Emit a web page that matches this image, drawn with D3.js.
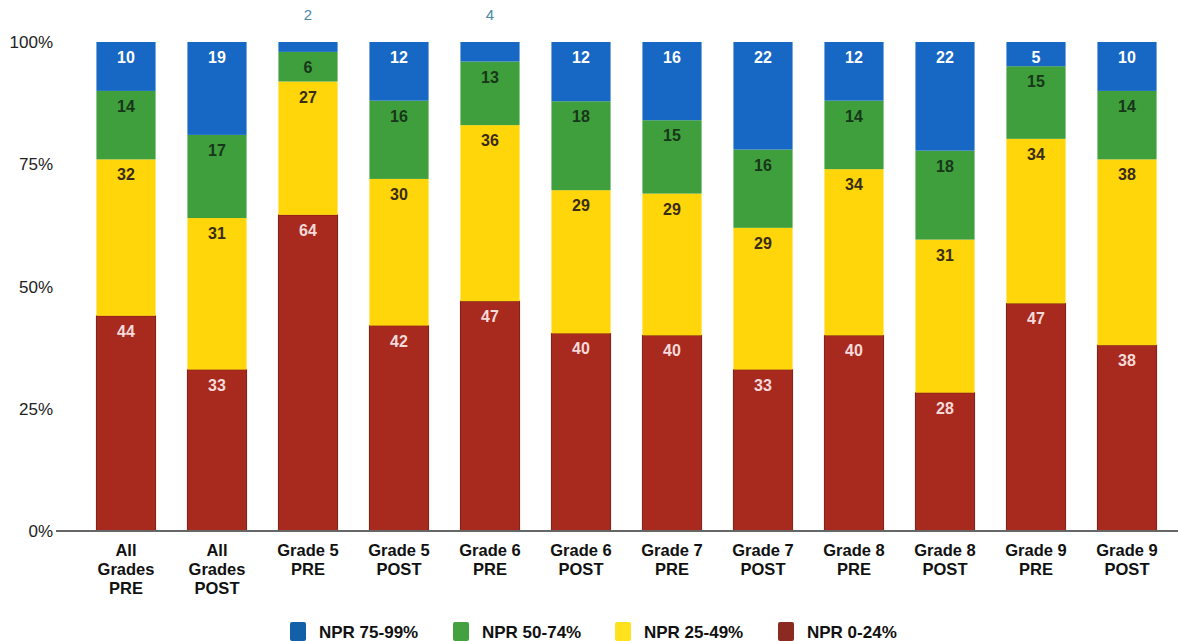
<!DOCTYPE html>
<html><head><meta charset="utf-8">
<script src="https://cdn.jsdelivr.net/npm/d3@7"></script>
<style>
html,body{margin:0;padding:0;background:#fff;}
svg{display:block;font-family:"Liberation Sans",Arial,sans-serif;}
</style></head>
<body><svg id="c" width="1178" height="641"></svg>
<script>
const categories = ["All Grades PRE","All Grades POST","Grade 5 PRE","Grade 5 POST","Grade 6 PRE","Grade 6 POST","Grade 7 PRE","Grade 7 POST","Grade 8 PRE","Grade 8 POST","Grade 9 PRE","Grade 9 POST"];
const categoryLines = [["All","Grades","PRE"],["All","Grades","POST"],["Grade 5","PRE"],["Grade 5","POST"],["Grade 6","PRE"],["Grade 6","POST"],["Grade 7","PRE"],["Grade 7","POST"],["Grade 8","PRE"],["Grade 8","POST"],["Grade 9","PRE"],["Grade 9","POST"]];
const npr0_24  = [44,33,64,42,47,40,40,33,40,28,47,38];
const npr25_49 = [32,31,27,30,36,29,29,29,34,31,34,38];
const npr50_74 = [14,17,6,16,13,18,15,16,14,18,15,14];
const npr75_99 = [10,19,2,12,4,12,16,22,12,22,5,10];
const seriesNames = ["NPR 0-24%","NPR 25-49%","NPR 50-74%","NPR 75-99%"];
const legendOrder = ["NPR 75-99%","NPR 50-74%","NPR 25-49%","NPR 0-24%"];
const yTicks = [0,0.25,0.5,0.75,1];
const yTickLabels = ["0%","25%","50%","75%","100%"];

const colors = {"NPR 0-24%":"#a82a1e","NPR 25-49%":"#ffd60a","NPR 50-74%":"#3f9f3c","NPR 75-99%":"#1768c4"};
const legendColors = {"NPR 0-24%":"#8a2a20","NPR 25-49%":"#ffe11e","NPR 50-74%":"#45a040","NPR 75-99%":"#1260a8"};
const labelColors = {"NPR 0-24%":"#f6dada","NPR 25-49%":"#3a2c12","NPR 50-74%":"#17361a","NPR 75-99%":"#ffffff"};

const rows = categories.map((c,i)=>({cat:c,"NPR 0-24%":npr0_24[i],"NPR 25-49%":npr25_49[i],"NPR 50-74%":npr50_74[i],"NPR 75-99%":npr75_99[i]}));
const stack = d3.stack().keys(seriesNames).offset(d3.stackOffsetExpand);
const stacked = stack(rows);

const svg = d3.select("#c");
const x = d3.scaleBand().domain(categories).range([80.5,1172.5]).paddingInner(0.35).paddingOuter(0.175);
const y = d3.scaleLinear().domain([0,1]).range([531,42]);

// y tick labels
svg.append("g").selectAll("text").data(yTicks).join("text")
  .attr("x",53).attr("y",d=>y(d)+6).attr("text-anchor","end")
  .attr("font-size",17).attr("fill","#222").text((d,i)=>yTickLabels[i]);

// bars
const g = svg.append("g");
stacked.forEach(s=>{
  g.append("g").selectAll("rect").data(s).join("rect")
    .attr("x",d=>x(d.data.cat)).attr("width",x.bandwidth())
    .attr("y",d=>y(d[1])).attr("height",d=>y(d[0])-y(d[1]))
    .attr("fill",colors[s.key])
    .attr("stroke",s.key==="NPR 0-24%"?"#7d1d14":"none").attr("stroke-width",1);
});

// labels
stacked.forEach(s=>{
  g.append("g").selectAll("text").data(s).join("text")
    .attr("x",d=>x(d.data.cat)+x.bandwidth()/2)
    .attr("y",d=>{const v=d.data[s.key]; return v<5 ? 20 : y(d[1])+21;})
    .attr("text-anchor","middle")
    .attr("font-size",d=>d.data[s.key]<5?15:16)
    .attr("font-weight",d=>d.data[s.key]<5?"normal":"bold")
    .attr("fill",d=>d.data[s.key]<5?"#4a88aa":labelColors[s.key])
    .text(d=>d.data[s.key]);
});

// axis baseline
svg.append("line").attr("x1",56).attr("x2",1178).attr("y1",531).attr("y2",531)
  .attr("stroke","#666").attr("stroke-width",2);

// x labels
const xl = svg.append("g");
categories.forEach((c,i)=>{
  const t = xl.append("text").attr("x",x(c)+x.bandwidth()/2).attr("y",556)
    .attr("text-anchor","middle").attr("font-size",16.5).attr("font-weight","bold").attr("fill","#111");
  categoryLines[i].forEach((ln,j)=>{
    t.append("tspan").attr("x",x(c)+x.bandwidth()/2).attr("dy",j===0?0:19).text(ln);
  });
});

// legend
const legX = [290,453,615,778];
const lg = svg.append("g");
legendOrder.forEach((k,i)=>{
  lg.append("rect").attr("x",legX[i]).attr("y",622).attr("width",16).attr("height",19).attr("rx",2)
    .attr("fill",legendColors[k]);
  lg.append("text").attr("x",legX[i]+29).attr("y",638).attr("font-size",17).attr("font-weight","bold")
    .attr("fill","#111").text(k);
});
</script></body></html>
